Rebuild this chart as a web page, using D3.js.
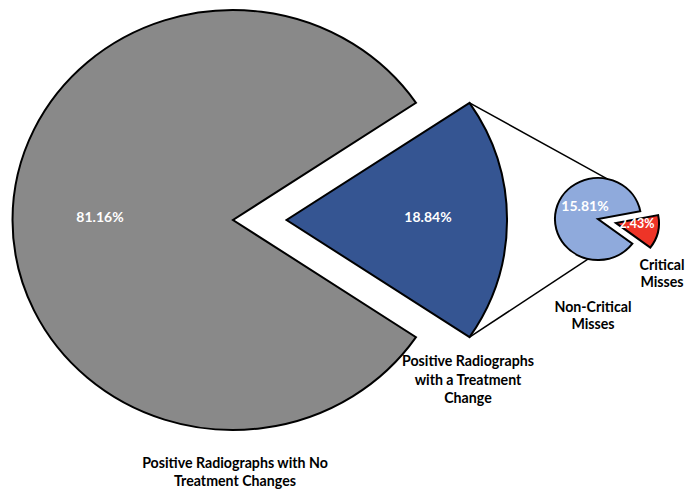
<!DOCTYPE html>
<html>
<head>
<meta charset="utf-8">
<script src="https://cdn.jsdelivr.net/npm/d3@7"></script>
<style>
  html, body { margin: 0; padding: 0; background: #ffffff; }
  svg { display: block; }
  text { font-family: Lato, "Open Sans", sans-serif; font-weight: 700; }
</style>
</head>
<body>
<svg id="chart" width="685" height="489"></svg>
<script>
// ---- data ----
const mainCategories = ["Positive Radiographs with No Treatment Changes", "Positive Radiographs with a Treatment Change"];
const mainValues = [81.16, 18.84];
const mainColors = ["#898989", "#355592"];
const mainLabelLines = [["Positive Radiographs with No", "Treatment Changes"], ["Positive Radiographs", "with a Treatment", "Change"]];

const subCategories = ["Non-Critical Misses", "Critical Misses"];
const subValues = [15.81, 2.43];
const subColors = ["#8FAADC", "#EE3427"];
const subLabelLines = [["Non-Critical", "Misses"], ["Critical", "Misses"]];

// ---- layout ----
const svg = d3.select("#chart");
const sx = 1.05;                 // horizontal stretch of the original picture
const big = {cx: 233, cy: 220, r: 210, explode: 51};
const small = {cx: 598, cy: 219, r: 41, explode: 17.5, rot: 13 * Math.PI / 180};

const fmt = v => v.toFixed(2) + "%";
const pt = (cx, cy, r, a) => [cx + sx * r * Math.sin(a), cy - r * Math.cos(a)];

// main pie: the treatment-change slice is centered on the right (angle PI/2)
const mainTotal = d3.sum(mainValues);
const half = Math.PI * mainValues[1] / mainTotal;
const mainPie = d3.pie().sort(null).value(d => d)
  .startAngle(Math.PI / 2 + half).endAngle(Math.PI / 2 + half + 2 * Math.PI);
const mainArcs = mainPie(mainValues);

// second pie: critical slice centered slightly below horizontal
const subTotal = d3.sum(subValues);
const subHalf = Math.PI * subValues[1] / subTotal;
const subMid = Math.PI / 2 + small.rot;
const subPie = d3.pie().sort(null).value(d => d)
  .startAngle(subMid + subHalf).endAngle(subMid + subHalf + 2 * Math.PI);
const subArcs = subPie(subValues);

const bigArc = d3.arc().innerRadius(0).outerRadius(big.r);
const smallArc = d3.arc().innerRadius(0).outerRadius(small.r);

// blue wedge apex (exploded)
const blue = mainArcs[1];
const blueMid = (blue.startAngle + blue.endAngle) / 2;
const blueApex = pt(big.cx, big.cy, big.explode, blueMid);

// connector lines
const cTop = pt(blueApex[0], blueApex[1], big.r, blue.startAngle);
const cBot = pt(blueApex[0], blueApex[1], big.r, blue.endAngle);
const sTop = pt(small.cx, small.cy, small.r, small.rot);
const sBot = pt(small.cx, small.cy, small.r, Math.PI + small.rot);
svg.append("line").attr("x1", cTop[0]).attr("y1", cTop[1]).attr("x2", sTop[0]).attr("y2", sTop[1])
  .attr("stroke", "#000").attr("stroke-width", 1.5);
svg.append("line").attr("x1", cBot[0]).attr("y1", cBot[1]).attr("x2", sBot[0]).attr("y2", sBot[1])
  .attr("stroke", "#000").attr("stroke-width", 1.5);

// main pie slices
mainArcs.forEach((d, i) => {
  const mid = (d.startAngle + d.endAngle) / 2;
  const off = i === 1 ? pt(0, 0, big.explode, mid) : [0, 0];
  svg.append("path")
    .attr("transform", `translate(${big.cx + off[0]},${big.cy + off[1]}) scale(${sx},1)`)
    .attr("d", bigArc(d))
    .attr("fill", mainColors[i])
    .attr("stroke", "#000").attr("stroke-width", 2)
    .attr("vector-effect", "non-scaling-stroke")
    .attr("stroke-linejoin", "miter");
});

// second pie slices
subArcs.forEach((d, i) => {
  const mid = (d.startAngle + d.endAngle) / 2;
  const off = i === 1 ? pt(0, 0, small.explode, mid) : [0, 0];
  svg.append("path")
    .attr("transform", `translate(${small.cx + off[0]},${small.cy + off[1]}) scale(${sx},1)`)
    .attr("d", smallArc(d))
    .attr("fill", subColors[i])
    .attr("stroke", "#000").attr("stroke-width", 2)
    .attr("vector-effect", "non-scaling-stroke");
});

// value labels
const valueLabels = [
  {text: fmt(mainValues[0]), x: 100, y: 222, size: 14},
  {text: fmt(mainValues[1]), x: 428, y: 222, size: 14},
  {text: fmt(subValues[0]), x: 585, y: 211, size: 14},
  {text: fmt(subValues[1]), x: 637, y: 228, size: 12.5}
];
valueLabels.forEach(l => {
  svg.append("text").attr("x", l.x).attr("y", l.y).attr("text-anchor", "middle")
    .attr("font-size", l.size).attr("fill", "#ffffff").text(l.text);
});

// category labels
function multiLine(lines, x, y, lh) {
  const t = svg.append("text").attr("text-anchor", "middle").attr("font-size", 14.2).attr("fill", "#000");
  lines.forEach((s, j) => t.append("tspan").attr("x", x).attr("y", y + j * lh).text(s));
}
multiLine(mainLabelLines[0], 235, 468, 17.5);
multiLine(mainLabelLines[1], 468, 366, 18.5);
multiLine(subLabelLines[0], 593, 312, 16.5);
multiLine(subLabelLines[1], 662, 270, 17);
</script>
</body>
</html>
